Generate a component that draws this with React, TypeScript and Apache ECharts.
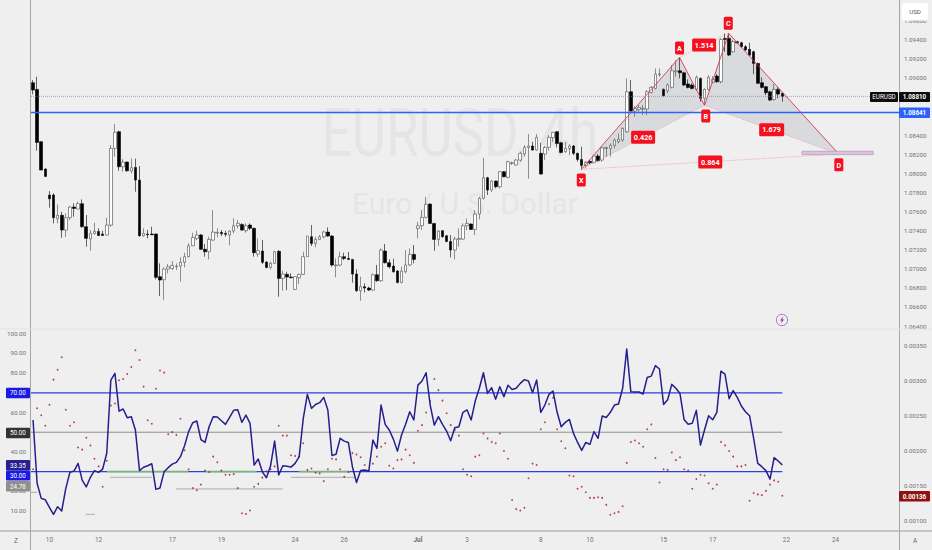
import React, { useEffect, useRef } from "react";
import * as echarts from "echarts";

const SLOTS = 212;
const FONT = "Roboto, 'Liberation Sans', sans-serif";
const dateLabelIndex = [4, 16, 34, 46, 64, 76, 94, 106, 124, 136, 154, 166, 184, 196];
const dateLabelText = ["10", "12", "17", "19", "24", "26", "Jul", "3", "8", "10", "15", "17", "22", "24"];

// [open, close, low, high]
const ohlc = [
[1.08953,1.08876,1.08831,1.08981],[1.08883,1.08328,1.08241,1.09016],[1.08335,1.08038,1.08038,1.08342],[1.08049,1.07972,1.07969,1.08056],
[1.07777,1.07738,1.07644,1.07818],[1.07777,1.07539,1.07480,1.07794],[1.07529,1.07564,1.07480,1.07679],[1.07564,1.07410,1.07330,1.07602],
[1.07410,1.07539,1.07337,1.07585],[1.07539,1.07651,1.07515,1.07661],[1.07651,1.07637,1.07550,1.07689],[1.07630,1.07686,1.07630,1.07707],
[1.07686,1.07445,1.07435,1.07731],[1.07445,1.07323,1.07236,1.07567],[1.07319,1.07375,1.07194,1.07410],[1.07375,1.07396,1.07361,1.07487],
[1.07396,1.07354,1.07347,1.07428],[1.07368,1.07354,1.07351,1.07403],[1.07358,1.07462,1.07354,1.07539],[1.07462,1.08265,1.07445,1.08300],
[1.08265,1.08433,1.08178,1.08520],[1.08440,1.08073,1.08031,1.08450],[1.08073,1.08122,1.08021,1.08153],[1.08122,1.08031,1.08021,1.08126],
[1.08028,1.08063,1.08003,1.08160],[1.08066,1.07934,1.07811,1.08157],[1.07934,1.07351,1.07340,1.08080],[1.07351,1.07375,1.07340,1.07428],
[1.07368,1.07361,1.07323,1.07410],[1.07368,1.07361,1.07358,1.07445],[1.07368,1.06915,1.06894,1.07375],[1.06921,1.06887,1.06719,1.07061],
[1.06890,1.07002,1.06677,1.07019],[1.07002,1.07026,1.06956,1.07054],[1.07009,1.07040,1.06991,1.07086],[1.07026,1.07033,1.06991,1.07061],
[1.07033,1.07072,1.06869,1.07124],[1.07072,1.07131,1.07019,1.07173],[1.07131,1.07246,1.07124,1.07270],[1.07246,1.07333,1.07243,1.07382],
[1.07323,1.07358,1.07305,1.07403],[1.07358,1.07208,1.07201,1.07368],[1.07208,1.07183,1.07131,1.07264],[1.07183,1.07312,1.07103,1.07340],
[1.07305,1.07389,1.07298,1.07619],[1.07379,1.07386,1.07333,1.07428],[1.07386,1.07372,1.07347,1.07410],[1.07375,1.07365,1.07340,1.07403],
[1.07358,1.07400,1.07250,1.07410],[1.07400,1.07455,1.07375,1.07532],[1.07455,1.07480,1.07428,1.07515],[1.07469,1.07410,1.07403,1.07480],
[1.07403,1.07455,1.07382,1.07480],[1.07462,1.07428,1.07410,1.07480],[1.07428,1.07173,1.07131,1.07435],[1.07159,1.07194,1.07131,1.07323],
[1.07190,1.07072,1.07054,1.07305],[1.07075,1.07019,1.07009,1.07082],[1.07019,1.07061,1.06998,1.07079],[1.07061,1.07183,1.07054,1.07194],
[1.07187,1.06904,1.06712,1.07201],[1.06904,1.06949,1.06775,1.06984],[1.06946,1.06918,1.06782,1.06974],[1.06918,1.06911,1.06904,1.06956],
[1.06789,1.06922,1.06782,1.06922],[1.06911,1.06946,1.06845,1.06956],[1.06946,1.07131,1.06939,1.07183],[1.07131,1.07347,1.07131,1.07347],
[1.07340,1.07270,1.07243,1.07462],[1.07270,1.07312,1.07229,1.07340],[1.07312,1.07340,1.07305,1.07358],[1.07340,1.07389,1.07323,1.07403],
[1.07389,1.07347,1.07340,1.07438],[1.07347,1.07044,1.07026,1.07358],[1.07037,1.07044,1.06915,1.07113],[1.07044,1.07131,1.07033,1.07183],
[1.07131,1.07113,1.07096,1.07173],[1.07113,1.07103,1.07096,1.07180],[1.07103,1.06949,1.06859,1.07106],[1.06949,1.06775,1.06764,1.06998],
[1.06775,1.06817,1.06670,1.06922],[1.06817,1.06803,1.06757,1.06852],[1.06803,1.06782,1.06771,1.06817],[1.06782,1.06942,1.06775,1.06956],
[1.06942,1.06880,1.06869,1.07044],[1.06880,1.07201,1.06869,1.07218],[1.07190,1.07068,1.07061,1.07264],[1.07068,1.07026,1.07009,1.07103],
[1.07033,1.06974,1.06963,1.07110],[1.06981,1.06862,1.06852,1.06991],[1.06862,1.06981,1.06852,1.07026],[1.06974,1.07044,1.06956,1.07201],
[1.07044,1.07155,1.07033,1.07218],[1.07155,1.07103,1.07061,1.07253],[1.07428,1.07455,1.07323,1.07497],[1.07455,1.07543,1.07410,1.07619],
[1.07543,1.07679,1.07532,1.07759],[1.07682,1.07480,1.07473,1.07689],[1.07480,1.07312,1.07194,1.07480],[1.07312,1.07400,1.07246,1.07410],
[1.07403,1.07340,1.07330,1.07410],[1.07351,1.07291,1.07281,1.07358],[1.07291,1.07201,1.07124,1.07358],[1.07201,1.07316,1.07103,1.07340],
[1.07312,1.07323,1.07236,1.07428],[1.07316,1.07455,1.07305,1.07480],[1.07455,1.07480,1.07410,1.07532],[1.07473,1.07417,1.07410,1.07480],
[1.07417,1.07578,1.07358,1.07619],[1.07578,1.07742,1.07522,1.07759],[1.07742,1.07958,1.07731,1.08167],[1.07958,1.07829,1.07777,1.07968],
[1.07829,1.07923,1.07811,1.07934],[1.07923,1.07864,1.07846,1.07927],[1.07864,1.08021,1.07846,1.08028],[1.08021,1.07968,1.07962,1.08028],
[1.07962,1.08126,1.07951,1.08136],[1.08108,1.08115,1.08091,1.08126],[1.08091,1.08143,1.08084,1.08153],[1.08143,1.08213,1.08126,1.08230],
[1.08206,1.08276,1.08178,1.08300],[1.08276,1.08290,1.07948,1.08415],[1.08290,1.08248,1.08241,1.08335],[1.08248,1.08380,1.08241,1.08415],
[1.08213,1.07996,1.07993,1.08324],[1.08206,1.08276,1.08143,1.08290],[1.08276,1.08380,1.08241,1.08405],[1.08377,1.08433,1.08335,1.08440],
[1.08440,1.08317,1.08276,1.08447],[1.08324,1.08223,1.08213,1.08335],[1.08230,1.08265,1.08220,1.08335],[1.08265,1.08290,1.08195,1.08310],
[1.08290,1.08213,1.08195,1.08300],[1.08213,1.08150,1.08126,1.08220],[1.08150,1.08087,1.08038,1.08283],[1.08087,1.08119,1.08056,1.08133],
[1.08129,1.08115,1.08101,1.08143],[1.08119,1.08185,1.08108,1.08195],[1.08185,1.08136,1.08126,1.08206],[1.08143,1.08272,1.08126,1.08283],
[1.08265,1.08272,1.08178,1.08283],[1.08265,1.08297,1.08178,1.08317],[1.08297,1.08352,1.08265,1.08370],[1.08335,1.08359,1.08317,1.08422],
[1.08352,1.08474,1.08335,1.08485],[1.08440,1.08858,1.08429,1.08998],[1.08858,1.08656,1.08649,1.08981],[1.08656,1.08684,1.08597,1.08708],
[1.08673,1.08694,1.08649,1.08719],[1.08677,1.08684,1.08614,1.08719],[1.08677,1.08858,1.08614,1.08876],[1.08851,1.08904,1.08841,1.08918],
[1.08893,1.09043,1.08883,1.09103],[1.09036,1.09043,1.09015,1.09103],[1.08883,1.08817,1.08806,1.08893],[1.08869,1.08928,1.08841,1.08946],
[1.08904,1.09078,1.08893,1.09138],[1.09068,1.09078,1.09015,1.09190],[1.09078,1.09057,1.08998,1.09218],[1.09057,1.08928,1.08918,1.09068],
[1.08939,1.08904,1.08893,1.08988],[1.08928,1.08893,1.08883,1.08946],[1.08883,1.09009,1.08869,1.09029],[1.08998,1.08789,1.08754,1.09009],
[1.08789,1.08883,1.08719,1.08893],[1.08883,1.09009,1.08869,1.09033],[1.08956,1.08988,1.08946,1.09022],[1.09022,1.08963,1.08953,1.09043],
[1.08963,1.09406,1.08946,1.09417],[1.09417,1.09406,1.09277,1.09469],[1.09417,1.09242,1.09232,1.09469],[1.09277,1.09382,1.09267,1.09399],
[1.09382,1.09371,1.09358,1.09392],[1.09371,1.09330,1.09319,1.09382],[1.09330,1.09295,1.09288,1.09347],[1.09302,1.09242,1.09232,1.09371],
[1.09277,1.09155,1.09043,1.09288],[1.09155,1.08946,1.08939,1.09162],[1.08953,1.08904,1.08893,1.09009],[1.08911,1.08848,1.08824,1.08918],
[1.08858,1.08771,1.08761,1.08869],[1.08778,1.08883,1.08764,1.08939],[1.08883,1.08834,1.08789,1.08904],[1.08841,1.08810,1.08754,1.08848],
];

const rsi = [
56.2,24.0,16.4,15.7,11.8,8.3,12.2,10.0,21.5,29.6,30.3,34.2,25.7,22.2,27.1,30.5,29.6,31.3,39.3,76.5,
79.9,60.7,61.8,57.4,57.9,51.1,30.5,32.2,33.0,34.0,21.0,21.7,29.9,32.0,33.8,34.7,37.6,43.1,50.3,54.8,
55.7,46.2,44.8,52.8,57.9,57.7,55.8,54.0,57.5,61.1,61.4,55.0,58.7,54.5,33.3,36.4,29.9,26.9,32.8,45.5,
28.3,33.0,32.7,32.3,34.2,37.6,57.0,69.2,62.1,64.1,65.0,67.7,61.3,38.2,38.8,46.9,45.5,44.8,32.5,24.5,
30.6,30.8,30.3,46.0,41.8,63.8,54.0,51.1,46.5,40.4,48.6,54.0,60.4,56.2,73.9,76.0,80.2,63.8,53.6,57.9,
54.0,50.6,45.7,52.3,52.8,60.1,61.3,56.2,65.8,72.3,80.2,69.7,72.6,66.8,73.1,68.0,73.9,71.7,72.3,74.8,
76.7,76.0,70.1,76.5,60.1,63.8,69.2,70.9,60.1,52.8,55.0,56.5,49.4,44.8,40.8,44.8,43.8,50.3,46.9,58.2,
57.5,60.1,63.8,64.3,72.3,92.2,70.6,70.4,70.4,69.4,77.8,78.5,83.8,82.1,64.1,66.5,74.3,72.3,69.7,56.5,
54.1,54.5,61.1,43.5,51.1,58.4,56.3,60.1,81.0,79.5,67.0,71.1,67.7,63.3,60.4,58.4,46.9,34.2,32.5,30.5,
26.2,37.1,35.4,33.35,
];

const atrDots = [
.00174,.00261,.00251,.00236,.00266,.00302,.00316,.00334,.00259,.00236,.00241,.00205,.00202,.00219,.00208,.00189,.00178,.00149,.00186,.00265,
.00268,.00301,.00303,.00310,.00320,.00344,.00330,.00292,.00244,.00239,.00289,.00315,.00312,.00224,.00227,.00223,.00246,.00201,.00174,.00147,
.00144,.00152,.00172,.00170,.00192,.00184,.00172,.00166,.00166,.00167,.00147,.00111,.00110,.00115,.00149,.00153,.00162,.00171,.00174,.00178,
.00236,.00222,.00222,.00194,.00193,.00192,.00211,.00173,.00175,.00169,.00168,.00157,.00174,.00189,.00188,.00174,.00163,.00170,.00197,.00195,
.00191,.00180,.00172,.00182,.00192,.00206,.00211,.00179,.00175,.00187,.00188,.00202,.00194,.00183,.00229,.00237,.00255,.00271,.00303,.00287,
.00272,.00254,.00237,.00230,.00222,.00174,.00166,.00164,.00192,.00194,.00225,.00218,.00213,.00211,.00225,.00200,.00189,.00130,.00117,.00115,
.00119,.00161,.00182,.00180,.00231,.00241,.00267,.00276,.00231,.00214,.00204,.00165,.00164,.00146,.00149,.00141,.00133,.00133,.00134,.00133,
.00123,.00109,.00111,.00113,.00121,.00183,.00213,.00215,.00211,.00206,.00231,.00238,.00190,.00155,.00174,.00173,.00198,.00187,.00191,.00174,
.00172,.00146,.00160,.00166,.00165,.00154,.00146,.00152,.00213,.00208,.00200,.00192,.00178,.00178,.00180,.00129,.00140,.00138,.00137,.00143,
.00152,.00158,.00156,.00136,
];

const priceTicks = [1.096, 1.094, 1.092, 1.09, 1.084, 1.082, 1.08, 1.078, 1.076, 1.074, 1.072, 1.07, 1.068, 1.066, 1.064];
const rsiTicks = [100, 90, 80, 60, 40, 20, 10];
const atrTicks = [0.0035, 0.003, 0.0025, 0.002, 0.0015, 0.001];
const rsiBlueLevels = [70, 30];
const rsiGrayLevel = 50;
const levelEnd = 183.5;
const greenSpans = [[18.5, 38.4], [42.5, 55.1], [65.5, 77.9]];
const grayMarks = [[27.1, 19.3, 29.5], [21.2, 35.4, 61.5], [27.1, 63.5, 79.1], [19.5, 0, 1.5], [8.3, 13.4, 15.6]];
const supportPrice = 1.08641;
const lastPrice = 1.0881;

// harmonic pattern: bar position, price
const pX = [134.4, 1.08046];
const pA = [158.4, 1.09219];
const pB = [164.5, 1.08716];
const pC = [170.4, 1.0947];
const pD = [197.3, 1.08206];
const triangles = [[pX, pA, pB], [pB, pC, pD]];
const solidLegs = [[pX, pA], [pA, pB], [pB, pC], [pC, pD]];
const dottedLegs = [[pX, pB], [pA, pC], [pB, pD], [pX, pD]];
const przBox = [188.3, 205.7, 1.08235, 1.082];
const patternLabels: [string, number, number, number][] = [
  ["X", 134.4, 1.07934, 9], ["A", 158.4, 1.09316, 9], ["B", 164.8, 1.08604, 9], ["C", 170.3, 1.09575, 9], ["D", 197.3, 1.08094, 9],
  ["1.514", 164.4, 1.09348, 24], ["0.426", 149.5, 1.08381, 24], ["1.679", 180.9, 1.08461, 25], ["0.864", 165.9, 1.08123, 24],
];

const RED = "#f5101f";
const BG = "#efefef";

const App = () => {
  const ref = useRef<HTMLDivElement>(null);
  useEffect(() => {
    const chart = echarts.init(ref.current!, undefined, { renderer: "svg" });
    const categories = Array.from({ length: SLOTS }, (_, i) => {
      const k = dateLabelIndex.indexOf(i);
      return k >= 0 ? dateLabelText[k] : "";
    });
    const tag = (x: number, y: number, w: number, h: number, text: string, fill: string, bold = false) => [
      { type: "rect", z: 100, shape: { x, y, width: w, height: h, r: 1 }, style: { fill } },
      { type: "text", z: 101, style: { x: x + w / 2, y: y + h / 2 + 0.3, text, fill: "#fff", align: "center", verticalAlign: "middle", font: `${bold ? "bold " : ""}6.3px ${FONT}` } },
    ];
    const vline = (x: number, y1: number, y2: number, stroke: string, w: number) => ({ type: "line", z: 90, shape: { x1: x, y1, x2: x, y2 }, style: { stroke, lineWidth: w } });
    const hline = (y: number, x1: number, x2: number, stroke: string, w: number) => ({ type: "line", z: 90, shape: { x1, y1: y, x2, y2: y }, style: { stroke, lineWidth: w } });
    const seg = (data: number[][], color: string, width: number, z = 3) => ({
      type: "line", xAxisIndex: 3, yAxisIndex: 1, data, symbol: "none", silent: true, z,
      lineStyle: { color, width },
    });
    const priceSeg = (p: number, color: string, width: number, type: any) => ({
      type: "line", xAxisIndex: 2, yAxisIndex: 0, data: [[0, p], [SLOTS, p]], symbol: "none", silent: true, z: 3,
      lineStyle: { color, width, type },
    });
    const option: any = {
      animation: false,
      backgroundColor: BG,
      textStyle: { fontFamily: FONT },
      grid: [
        { left: 31, top: 0, width: 868, height: 329 },
        { left: 31, top: 330, width: 868, height: 201 },
      ],
      xAxis: [
        { type: "category", gridIndex: 0, data: categories, show: false },
        {
          type: "category", gridIndex: 1, data: categories,
          axisLine: { show: false }, axisTick: { show: false },
          axisLabel: {
            interval: (_: number, v: string) => v !== "",
            formatter: (v: string) => (v === "Jul" ? `{b|${v}}` : v),
            rich: { b: { fontSize: 6.4, fontWeight: "bold", color: "#666a72" } },
            fontSize: 6.4, color: "#6f7278", margin: 6,
          },
        },
        { type: "value", gridIndex: 0, min: 0, max: SLOTS, show: false },
        { type: "value", gridIndex: 1, min: 0, max: SLOTS, show: false },
      ],
      yAxis: [
        {
          type: "value", gridIndex: 0, position: "right", min: 1.06374, max: 1.09819, scale: true,
          splitLine: { show: false }, axisLine: { show: false }, axisTick: { show: false },
          axisLabel: { customValues: priceTicks, formatter: (v: number) => v.toFixed(5), fontSize: 6.2, color: "#6f7278", margin: 5 },
        },
        {
          type: "value", gridIndex: 1, position: "left", min: -0.15, max: 101.9,
          splitLine: { show: false }, axisLine: { show: false }, axisTick: { show: false },
          axisLabel: { customValues: rsiTicks, formatter: (v: number) => v.toFixed(2), fontSize: 6.2, color: "#6f7278", margin: 5 },
        },
        {
          type: "value", gridIndex: 1, position: "right", min: 0.000857, max: 0.003729,
          splitLine: { show: false }, axisLine: { show: false }, axisTick: { show: false },
          axisLabel: { customValues: atrTicks, formatter: (v: number) => v.toFixed(5), fontSize: 6.2, color: "#6f7278", margin: 5 },
        },
      ],
      series: [
        {
          type: "custom", xAxisIndex: 2, yAxisIndex: 0, z: 1, silent: true,
          data: triangles.map((_, k) => [k]),
          encode: { x: 0 },
          renderItem: (p: any, api: any) => ({
            type: "polygon",
            shape: { points: triangles[p.dataIndex].map((q) => api.coord(q)) },
            style: { fill: "#d9dadd" },
          }),
        },
        {
          type: "candlestick", xAxisIndex: 0, yAxisIndex: 0, data: ohlc, barWidth: 3.1, z: 2, silent: true,
          itemStyle: { color: "#ffffff", color0: "#000000", borderColor: "#4a4a4a", borderColor0: "#000000", borderWidth: 0.6 },
        },
        priceSeg(supportPrice, "#2962ff", 1.4, "solid"),
        priceSeg(lastPrice, "#8a8a8a", 0.7, [1, 1]),
        {
          type: "custom", xAxisIndex: 2, yAxisIndex: 0, z: 3, silent: true,
          data: [...solidLegs, ...dottedLegs].map((_, k) => [k]),
          encode: { x: 0 },
          renderItem: (p: any, api: any) => {
            const k = p.dataIndex;
            const solid = k < solidLegs.length;
            const leg = solid ? solidLegs[k] : dottedLegs[k - solidLegs.length];
            const a = api.coord(leg[0]);
            const b = api.coord(leg[1]);
            return {
              type: "line",
              shape: { x1: a[0], y1: a[1], x2: b[0], y2: b[1] },
              style: { stroke: solid ? "#d8384e" : "#ee8a96", lineWidth: solid ? 0.9 : 0.7, lineDash: solid ? undefined : [1.2, 1.2] },
            };
          },
        },
        {
          type: "custom", xAxisIndex: 2, yAxisIndex: 0, z: 4, silent: true,
          data: [[0]],
          encode: { x: 0 },
          renderItem: (_: any, api: any) => {
            const a = api.coord([przBox[0], przBox[2]]);
            const b = api.coord([przBox[1], przBox[3]]);
            return {
              type: "rect",
              shape: { x: a[0], y: a[1], width: b[0] - a[0], height: b[1] - a[1] },
              style: { fill: "#dcc3dc", stroke: "#b294bd", lineWidth: 0.7 },
            };
          },
        },
        {
          type: "custom", xAxisIndex: 2, yAxisIndex: 0, z: 5, silent: true,
          data: patternLabels.map((_, k) => [k]),
          encode: { x: 0 },
          renderItem: (p: any, api: any) => {
            const [text, x, y, w] = patternLabels[p.dataIndex];
            const c = api.coord([x, y]);
            return {
              type: "group",
              children: [
                { type: "rect", shape: { x: c[0] - w / 2, y: c[1] - 6.5, width: w, height: 13, r: 1.5 }, style: { fill: RED } },
                { type: "text", style: { x: c[0], y: c[1] + 0.3, text, fill: "#fff", align: "center", verticalAlign: "middle", font: `bold 7.2px ${FONT}` } },
              ],
            };
          },
        },
        ...rsiBlueLevels.map((v) => seg([[0, v], [levelEnd, v]], "#2f3fdc", 1.4)),
        seg([[0, rsiGrayLevel], [levelEnd, rsiGrayLevel]], "#77777c", 0.8),
        ...greenSpans.map(([a, b]) => seg([[a, 30], [b, 30]], "#74b874", 1.5, 4)),
        ...grayMarks.map(([v, a, b]) => seg([[a, v], [b, v]], "#9a9a9a", 0.8, 4)),
        {
          type: "scatter", xAxisIndex: 1, yAxisIndex: 2, data: atrDots, symbolSize: 1.8, silent: true, z: 5,
          itemStyle: { color: "#a3162f" },
        },
        {
          type: "line", xAxisIndex: 1, yAxisIndex: 1, data: rsi, symbol: "none", silent: true, z: 6,
          lineStyle: { color: "#251f8e", width: 1.5, join: "round" },
        },
      ],
      graphic: [
        { type: "text", z: 0, x: 460, y: 134, scaleX: 0.8, style: { text: "EURUSD, 4h", fill: "#e5e5e7", align: "center", verticalAlign: "middle", font: `66px ${FONT}` } },
        { type: "text", z: 0, x: 465, y: 203, style: { text: "Euro / U.S. Dollar", fill: "#e5e5e7", align: "center", verticalAlign: "middle", font: `30px ${FONT}` } },
        vline(30.5, 0, 550, "#a6a6a6", 1),
        vline(899.5, 0, 550, "#a6a6a6", 1),
        hline(329, 0, 932, "#e3e3e3", 1),
        hline(531, 0, 932, "#b4b4b4", 1.4),
        { type: "rect", z: 100, shape: { x: 902, y: 3, width: 26, height: 17.5, r: 2 }, style: { fill: "#fff" } },
        { type: "text", z: 101, style: { x: 915, y: 11.5, text: "USD", fill: "#555", align: "center", verticalAlign: "middle", font: `6.2px ${FONT}` } },
        ...tag(870, 92, 28, 10, "EURUSD", "#0c0c0c"),
        ...tag(899, 92, 31, 10, "1.08810", "#0c0c0c", true),
        ...tag(899, 107.5, 31, 10.5, "1.08641", "#2962ff", true),
        ...tag(899, 491, 31, 10.5, "0.00136", "#8e1212", true),
        ...tag(6, 387.7, 24, 10.5, "70.00", "#1a1ae0"),
        ...tag(6, 427.7, 24, 10.5, "50.00", "#333333"),
        ...tag(6, 460, 24, 10.6, "33.35", "#2a1f8f"),
        ...tag(6, 470.6, 24, 10, "30.00", "#1a1ae0"),
        ...tag(6, 481, 24, 10.5, "24.78", "#8f8f8f"),
        { type: "text", z: 101, style: { x: 16, y: 541, text: "Z", fill: "#666", align: "center", verticalAlign: "middle", font: `6.5px ${FONT}` } },
        { type: "text", z: 101, style: { x: 915, y: 541, text: "A", fill: "#666", align: "center", verticalAlign: "middle", font: `6.5px ${FONT}` } },
        { type: "circle", z: 95, shape: { cx: 782, cy: 320, r: 5.7 }, style: { fill: "none", stroke: "#b060c8", lineWidth: 0.9 } },
        { type: "polygon", z: 96, shape: { points: [[783.2, 316.5], [780, 320.6], [781.8, 320.6], [781, 323.5], [784, 319.4], [782.2, 319.4]] }, style: { fill: "#9c27b0" } },
      ],
    };
    chart.setOption(option);
    return () => chart.dispose();
  }, []);
  return <div ref={ref} style={{ position: "fixed", left: 0, top: 0, width: 932, height: 550 }} />;
};

export default App;
